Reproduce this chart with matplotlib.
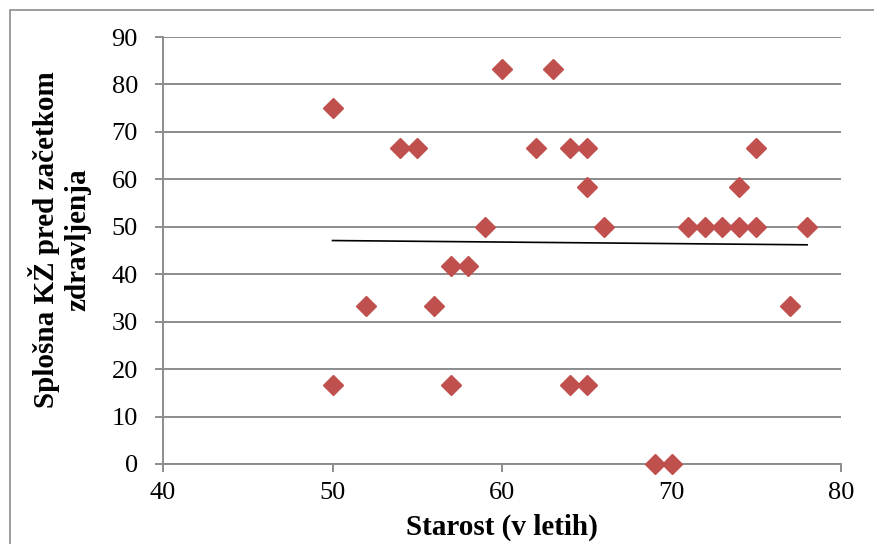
import matplotlib
matplotlib.use("Agg")
import matplotlib.pyplot as plt
from matplotlib.patches import Rectangle

# --------------------------------
# Data
# --------------------------------

age = [50, 50, 52, 54, 55, 56, 57, 57, 58, 59,
       60, 62, 63, 64, 64, 65, 65, 65, 66,
       69, 70, 71, 72, 73, 74, 74, 75, 75, 77, 78]

qol = [75, 16.7, 33.3, 66.7, 66.7, 33.3, 41.7, 16.7, 41.7, 50,
       83.3, 66.7, 83.3, 66.7, 16.7, 66.7, 58.3, 16.7, 50,
       0, 0, 50, 50, 50, 50, 58.3, 50, 66.7, 33.3, 50]

# linear trend line as drawn in the original chart
trend_x = [50, 78]
trend_y = [47.1, 46.2]

x_ticks = [40, 50, 60, 70, 80]
y_ticks = [0, 10, 20, 30, 40, 50, 60, 70, 80, 90]

x_label = "Starost (v letih)"
y_label = "Splošna KŽ pred začetkom\nzdravljenja"

plt.rcParams["font.family"] = ["Liberation Serif", "DejaVu Serif"]

GRID = "#8c8c8c"
RED = "#c0504d"

# --------------------------------
# Figure
# --------------------------------

fig = plt.figure(figsize=(8.74, 5.44), dpi=100)

ax = fig.add_axes([163 / 874, 1 - 464 / 544, (841 - 163) / 874, (464 - 37) / 544])

ax.set_xlim(40, 80)
ax.set_ylim(0, 90)
ax.set_xticks(x_ticks)
ax.set_yticks(y_ticks)

ax.yaxis.grid(True, color=GRID, linewidth=1.4)
ax.set_axisbelow(True)

for side in ["top", "right"]:
    ax.spines[side].set_visible(False)

for side in ["left", "bottom"]:
    ax.spines[side].set_color(GRID)
    ax.spines[side].set_linewidth(1.4)

ax.tick_params(
    axis="both",
    direction="out",
    length=6,
    width=1.4,
    color=GRID,
    labelsize=19,
    labelcolor="black",
)
ax.tick_params(axis="y", pad=12)
ax.tick_params(axis="x", pad=7)

# points
ax.plot(
    age,
    qol,
    linestyle="none",
    marker="D",
    markersize=10,
    color=RED,
    clip_on=False,
    zorder=3,
)

# trend line
ax.plot(trend_x, trend_y, color="black", linewidth=1.2, zorder=2)

ax.set_xlabel(x_label, fontsize=21, fontweight="bold", labelpad=7)
ax.set_ylabel(y_label, fontsize=21, fontweight="bold", linespacing=1.2)
ax.yaxis.set_label_coords((91 - 163) / 678, 0.526)

# chart area border
fig.patches.append(
    Rectangle(
        (9.5 / 874, -0.1),
        1.2,
        1.1 - 10.5 / 544,
        transform=fig.transFigure,
        fill=False,
        edgecolor=GRID,
        linewidth=1.2,
    )
)

fig.savefig("out.png", dpi=100)
